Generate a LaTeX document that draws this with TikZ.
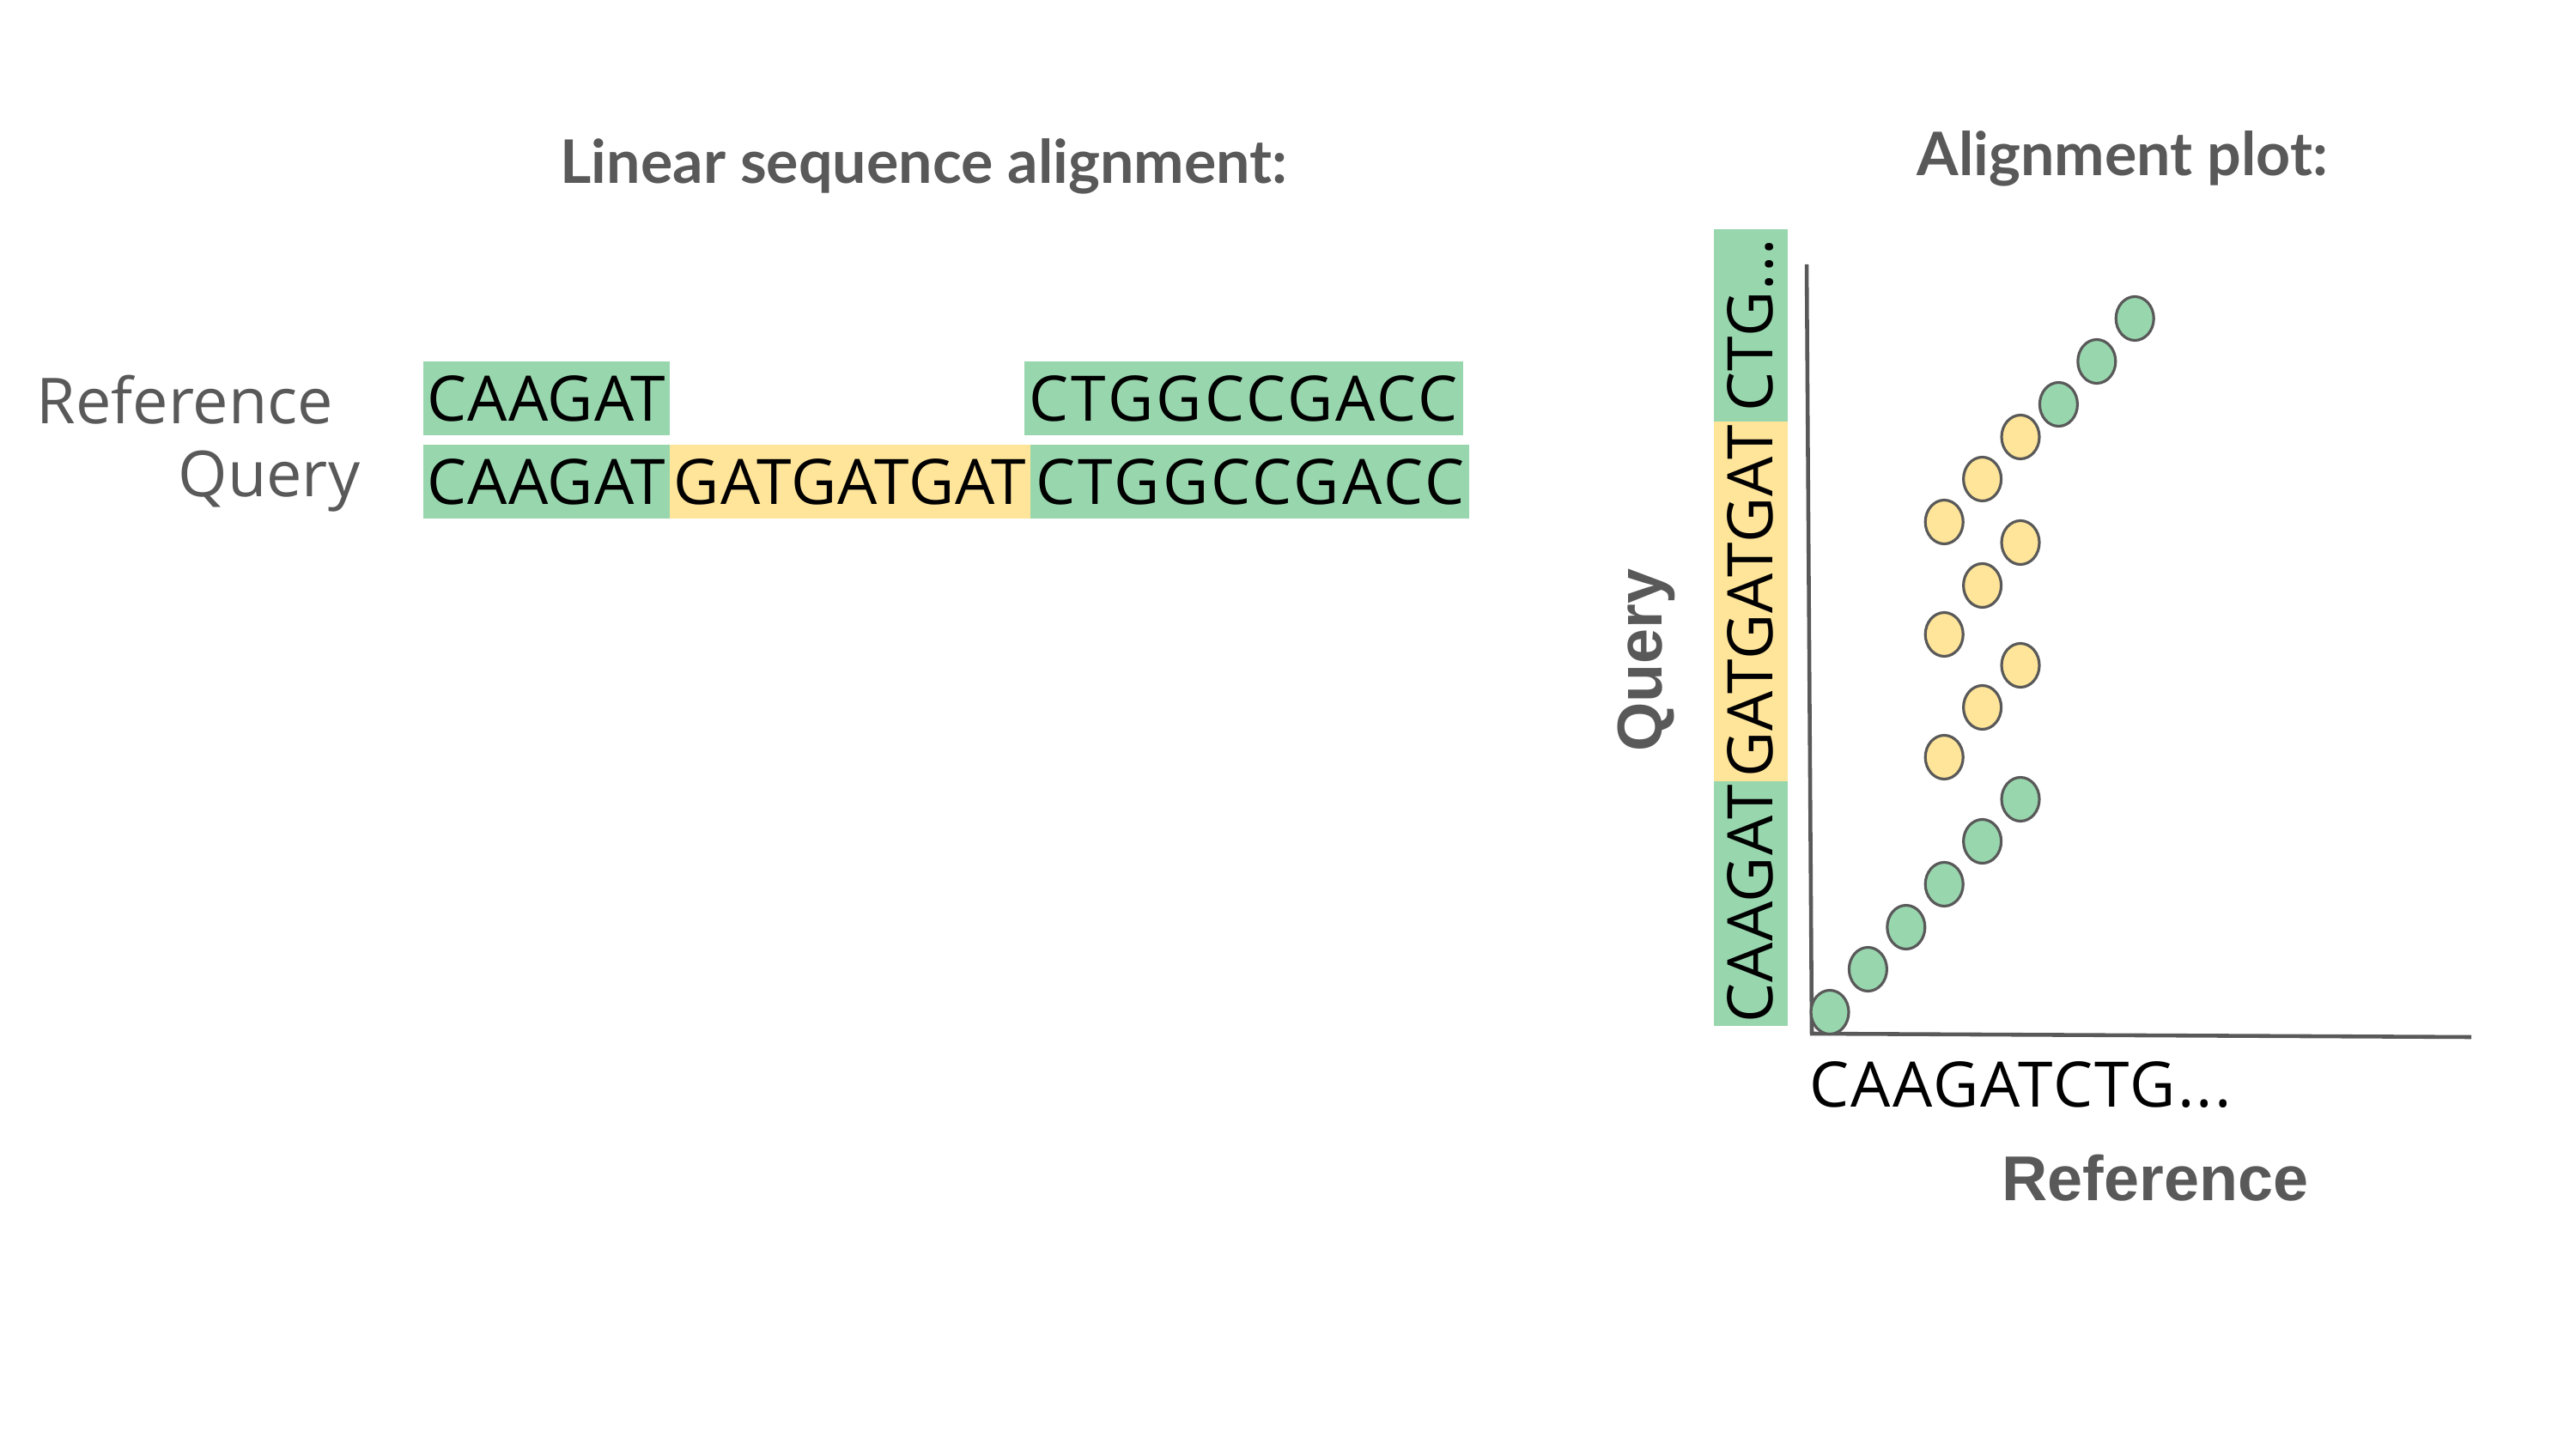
\documentclass[tikz,border=0pt]{standalone}
\usepackage{fontspec}
\setmainfont{Open Sans}
\newfontfamily\titlefont{Lato}
\newfontfamily\axisfont{Liberation Sans}
\newfontfamily\seqfamily{Open Sans}[LetterSpace=1.5]
\newfontfamily\wideseqfamily{Open Sans}[LetterSpace=4.5]
\usetikzlibrary{positioning, shapes.geometric}

\definecolor{matchgreen}{RGB}{152,214,174}
\definecolor{repeatyellow}{RGB}{255,229,153}
\definecolor{labelgray}{RGB}{89,89,89}

\newcommand{\seqfont}{\seqfamily\fontsize{20.8pt}{24pt}\selectfont}
\newcommand{\wideseqfont}{\wideseqfamily\fontsize{20.8pt}{24pt}\selectfont}

\begin{document}
\begin{tikzpicture}[
    seqbox/.style={inner xsep=0pt, inner ysep=0pt, minimum height=0.86cm, font=\seqfont, text=black},
    greenseq/.style={seqbox, fill=matchgreen},
    yellowseq/.style={seqbox, fill=repeatyellow},
    title/.style={font=\titlefont\bfseries\fontsize{19.9pt}{24pt}\selectfont, text=labelgray, inner sep=0pt, anchor=base},
    rowlabel/.style={font=\fontsize{21pt}{24pt}\selectfont, text=labelgray, inner sep=0pt, anchor=base west},
    axislabel/.style={font=\axisfont\bfseries\fontsize{21pt}{24pt}\selectfont, text=labelgray, inner sep=0pt, anchor=base},
    axisline/.style={labelgray, line width=1.3pt},
    matchdot/.style={ellipse, draw=labelgray, line width=0.9pt, minimum width=0.44cm, minimum height=0.51cm, inner sep=0pt}
]
\useasboundingbox (0,0) rectangle (30,16.88);

% X positions
\def\xrow{4.92}
\def\xcol{20.385}
\def\xdot{21.31}
\def\dx{0.444}

% ---------- Titles ----------
\node[title] (linTitle) at (10.76,14.74) {Linear sequence alignment:};
\node[title] (plotTitle) at (24.72,14.83) {Alignment plot:};

% ---------- Linear alignment ----------
\node[rowlabel] (refLabel) at (0.42,11.94) {Reference};
\node[rowlabel] (qryLabel) at (2.07,11.09) {Query};

\node[greenseq, minimum width=2.87cm, anchor=west] (refA) at (\xrow,12.24) {CAAGAT};
\node[greenseq, minimum width=5.11cm, font=\wideseqfont, anchor=west] (refB) at (11.92,12.24) {CTGGCCGACC};

\node[greenseq, minimum width=2.87cm, anchor=west] (qryA) at (\xrow,11.265) {CAAGAT};
\node[yellowseq, minimum width=4.20cm, right=-0.3pt of qryA] (qryB) {GATGATGAT};
\node[greenseq, minimum width=5.11cm, font=\wideseqfont, right=-0.3pt of qryB] (qryC) {CTGGCCGACC};

% ---------- Plot: query column ----------
\node[greenseq, minimum width=2.85cm, rotate=90, anchor=west] (colA) at (\xcol,4.92) {CAAGAT};
\node[yellowseq, minimum width=4.19cm, rotate=90, anchor=west] (colB) at ([yshift=-0.3pt]colA.east) {GATGATGAT};
\node[greenseq, minimum width=2.24cm, rotate=90, anchor=west] (colC) at ([yshift=-0.3pt]colB.east) {CTG...};

% ---------- Plot: axes ----------
\coordinate (ytop) at (21.04,13.80);
\coordinate (origin) at (21.10,4.84);
\coordinate (xend) at (28.78,4.80);
\draw[axisline] (ytop) -- (origin) -- (xend);

\node[font=\seqfamily\addfontfeatures{LetterSpace=3}\fontsize{20.8pt}{24pt}\selectfont, inner sep=0pt, anchor=base west] (refSeq) at (21.07,3.99) {CAAGATCTG...};
\node[axislabel] (refAxis) at (25.10,2.90) {Reference};
\node[axislabel, rotate=90] (qryAxis) at (19.35,9.19) {Query};

% ---------- Plot: matches ----------
\foreach \i/\y in {1/5.09, 2/5.59, 3/6.08, 4/6.58, 5/7.08, 6/7.57, 7/12.17, 8/12.67, 9/13.17} {
    \pgfmathsetmacro{\x}{\xdot + (\i-1)*\dx}
    \node[matchdot, fill=matchgreen] (g\i) at (\x,\y) {};
}

\foreach \n/\i/\y in {1/4/8.06, 2/5/8.64, 3/6/9.13, 4/4/9.49, 5/5/10.06, 6/6/10.56, 7/4/10.80, 8/5/11.30, 9/6/11.79} {
    \pgfmathsetmacro{\x}{\xdot + (\i-1)*\dx}
    \node[matchdot, fill=repeatyellow] (y\n) at (\x,\y) {};
}

\end{tikzpicture}
\end{document}
